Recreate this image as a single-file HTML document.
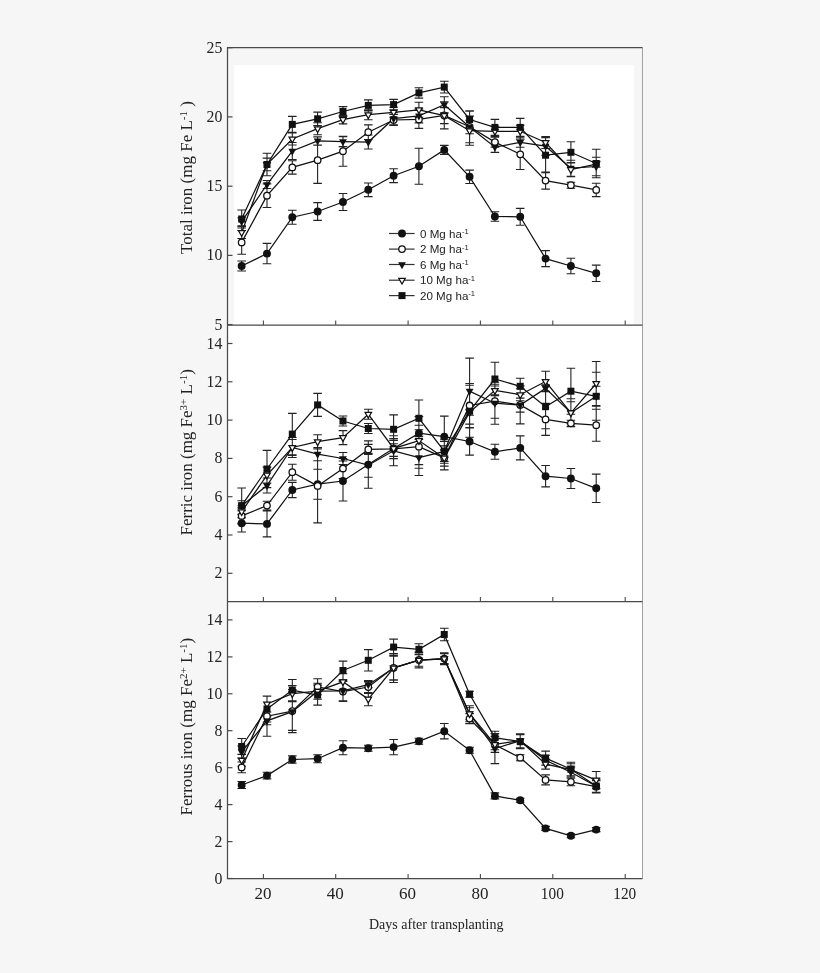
<!DOCTYPE html>
<html><head><meta charset="utf-8"><style>html,body{margin:0;padding:0;background:#f6f6f6;width:820px;height:973px;overflow:hidden}svg{display:block;will-change:transform}</style></head>
<body><svg width="820" height="973" viewBox="0 0 820 973">
<rect x="0" y="0" width="820" height="973" fill="#f6f6f6"/><rect x="234" y="65" width="400" height="260.0" fill="#fff"/><rect x="227.5" y="325.0" width="415.0" height="553.5" fill="#fff"/><g font-family="Liberation Serif" font-size="17" fill="#222"><path d="M227.5 47.7h5" stroke="#4a4a4a" stroke-width="1.2"/><text transform="translate(222.3,52.7) scale(0.93,1)" text-anchor="end">25</text><path d="M227.5 116.9h5" stroke="#4a4a4a" stroke-width="1.2"/><text transform="translate(222.3,121.9) scale(0.93,1)" text-anchor="end">20</text><path d="M227.5 186.2h5" stroke="#4a4a4a" stroke-width="1.2"/><text transform="translate(222.3,191.2) scale(0.93,1)" text-anchor="end">15</text><path d="M227.5 255.4h5" stroke="#4a4a4a" stroke-width="1.2"/><text transform="translate(222.3,260.4) scale(0.93,1)" text-anchor="end">10</text><path d="M227.5 324.6h5" stroke="#4a4a4a" stroke-width="1.2"/><text transform="translate(222.3,329.6) scale(0.93,1)" text-anchor="end">5</text><path d="M227.5 343.5h5" stroke="#4a4a4a" stroke-width="1.2"/><text transform="translate(222.3,348.5) scale(0.93,1)" text-anchor="end">14</text><path d="M227.5 381.8h5" stroke="#4a4a4a" stroke-width="1.2"/><text transform="translate(222.3,386.8) scale(0.93,1)" text-anchor="end">12</text><path d="M227.5 420.1h5" stroke="#4a4a4a" stroke-width="1.2"/><text transform="translate(222.3,425.1) scale(0.93,1)" text-anchor="end">10</text><path d="M227.5 458.4h5" stroke="#4a4a4a" stroke-width="1.2"/><text transform="translate(222.3,463.4) scale(0.93,1)" text-anchor="end">8</text><path d="M227.5 496.7h5" stroke="#4a4a4a" stroke-width="1.2"/><text transform="translate(222.3,501.7) scale(0.93,1)" text-anchor="end">6</text><path d="M227.5 535.0h5" stroke="#4a4a4a" stroke-width="1.2"/><text transform="translate(222.3,540.0) scale(0.93,1)" text-anchor="end">4</text><path d="M227.5 573.3h5" stroke="#4a4a4a" stroke-width="1.2"/><text transform="translate(222.3,578.3) scale(0.93,1)" text-anchor="end">2</text><path d="M227.5 619.9h5" stroke="#4a4a4a" stroke-width="1.2"/><text transform="translate(222.3,624.9) scale(0.93,1)" text-anchor="end">14</text><path d="M227.5 656.9h5" stroke="#4a4a4a" stroke-width="1.2"/><text transform="translate(222.3,661.9) scale(0.93,1)" text-anchor="end">12</text><path d="M227.5 693.8h5" stroke="#4a4a4a" stroke-width="1.2"/><text transform="translate(222.3,698.8) scale(0.93,1)" text-anchor="end">10</text><path d="M227.5 730.7h5" stroke="#4a4a4a" stroke-width="1.2"/><text transform="translate(222.3,735.7) scale(0.93,1)" text-anchor="end">8</text><path d="M227.5 767.7h5" stroke="#4a4a4a" stroke-width="1.2"/><text transform="translate(222.3,772.7) scale(0.93,1)" text-anchor="end">6</text><path d="M227.5 804.6h5" stroke="#4a4a4a" stroke-width="1.2"/><text transform="translate(222.3,809.6) scale(0.93,1)" text-anchor="end">4</text><path d="M227.5 841.6h5" stroke="#4a4a4a" stroke-width="1.2"/><text transform="translate(222.3,846.6) scale(0.93,1)" text-anchor="end">2</text><path d="M227.5 878.5h5" stroke="#4a4a4a" stroke-width="1.2"/><text transform="translate(222.3,883.5) scale(0.93,1)" text-anchor="end">0</text><text transform="translate(262.9,899.3) scale(1.0,1)" text-anchor="middle">20</text><text transform="translate(335.2,899.3) scale(1.0,1)" text-anchor="middle">40</text><text transform="translate(407.6,899.3) scale(1.0,1)" text-anchor="middle">60</text><text transform="translate(479.9,899.3) scale(1.0,1)" text-anchor="middle">80</text><text transform="translate(552.3,899.3) scale(0.9,1)" text-anchor="middle">100</text><text transform="translate(624.7,899.3) scale(0.9,1)" text-anchor="middle">120</text></g><path d="M263.4 325.0v-4.5M335.7 325.0v-4.5M408.1 325.0v-4.5M480.4 325.0v-4.5M552.8 325.0v-4.5M625.2 325.0v-4.5M263.4 601.5v-4.5M335.7 601.5v-4.5M408.1 601.5v-4.5M480.4 601.5v-4.5M552.8 601.5v-4.5M625.2 601.5v-4.5M263.4 878.5v-4.5M335.7 878.5v-4.5M408.1 878.5v-4.5M480.4 878.5v-4.5M552.8 878.5v-4.5M625.2 878.5v-4.5" stroke="#4a4a4a" stroke-width="1.1"/><path d="M642.5 47.7V878.5" fill="none" stroke="#999" stroke-width="0.9"/><path d="M642.5 47.7H227.5V878.5H642.5M227.5 325.0H642.5M227.5 601.5H642.5" fill="none" stroke="#4a4a4a" stroke-width="1.25"/><path d="M241.7 261.0V271.0M237.4 261.0h8.6M237.4 271.0h8.6M267.0 243.4V263.8M262.7 243.4h8.6M262.7 263.8h8.6M292.3 210.2V224.2M288.0 210.2h8.6M288.0 224.2h8.6M317.6 202.6V220.4M313.3 202.6h8.6M313.3 220.4h8.6M343.0 193.5V210.5M338.7 193.5h8.6M338.7 210.5h8.6M368.3 183.0V196.6M364.0 183.0h8.6M364.0 196.6h8.6M393.6 168.8V182.6M389.3 168.8h8.6M389.3 182.6h8.6M418.9 148.3V184.3M414.6 148.3h8.6M414.6 184.3h8.6M444.3 145.4V154.4M440.0 145.4h8.6M440.0 154.4h8.6M469.6 170.1V183.5M465.3 170.1h8.6M465.3 183.5h8.6M494.9 211.7V221.3M490.6 211.7h8.6M490.6 221.3h8.6M520.2 208.4V225.2M515.9 208.4h8.6M515.9 225.2h8.6M545.6 250.6V266.6M541.3 250.6h8.6M541.3 266.6h8.6M570.9 258.3V273.7M566.6 258.3h8.6M566.6 273.7h8.6M596.2 265.1V281.5M591.9 265.1h8.6M591.9 281.5h8.6M241.7 230.5V254.3M237.4 230.5h8.6M237.4 254.3h8.6M267.0 183.9V207.5M262.7 183.9h8.6M262.7 207.5h8.6M292.3 160.7V174.1M288.0 160.7h8.6M288.0 174.1h8.6M317.6 137.0V183.4M313.3 137.0h8.6M313.3 183.4h8.6M343.0 136.2V166.2M338.7 136.2h8.6M338.7 166.2h8.6M368.3 124.9V139.5M364.0 124.9h8.6M364.0 139.5h8.6M393.6 114.5V125.5M389.3 114.5h8.6M389.3 125.5h8.6M418.9 110.4V128.4M414.6 110.4h8.6M414.6 128.4h8.6M444.3 101.9V128.9M440.0 101.9h8.6M440.0 128.9h8.6M469.6 110.8V142.8M465.3 110.8h8.6M465.3 142.8h8.6M494.9 137.1V147.1M490.6 137.1h8.6M490.6 147.1h8.6M520.2 139.1V169.5M515.9 139.1h8.6M515.9 169.5h8.6M545.6 172.1V189.1M541.3 172.1h8.6M541.3 189.1h8.6M570.9 182.2V188.2M566.6 182.2h8.6M566.6 188.2h8.6M596.2 183.2V196.6M591.9 183.2h8.6M591.9 196.6h8.6M241.7 217.7V225.7M237.4 217.7h8.6M237.4 225.7h8.6M267.0 180.5V188.5M262.7 180.5h8.6M262.7 188.5h8.6M292.3 142.5V159.5M288.0 142.5h8.6M288.0 159.5h8.6M317.6 136.7V145.1M313.3 136.7h8.6M313.3 145.1h8.6M343.0 136.6V146.6M338.7 136.6h8.6M338.7 146.6h8.6M368.3 135.0V149.0M364.0 135.0h8.6M364.0 149.0h8.6M393.6 112.7V124.7M389.3 112.7h8.6M389.3 124.7h8.6M418.9 108.9V122.9M414.6 108.9h8.6M414.6 122.9h8.6M444.3 96.7V112.7M440.0 96.7h8.6M440.0 112.7h8.6M469.6 120.3V133.7M465.3 120.3h8.6M465.3 133.7h8.6M494.9 142.0V152.4M490.6 142.0h8.6M490.6 152.4h8.6M520.2 137.3V147.3M515.9 137.3h8.6M515.9 147.3h8.6M545.6 137.2V155.2M541.3 137.2h8.6M541.3 155.2h8.6M570.9 160.2V176.2M566.6 160.2h8.6M566.6 176.2h8.6M596.2 157.3V175.7M591.9 157.3h8.6M591.9 175.7h8.6M241.7 226.5V238.5M237.4 226.5h8.6M237.4 238.5h8.6M267.0 158.1V170.7M262.7 158.1h8.6M262.7 170.7h8.6M292.3 133.0V145.0M288.0 133.0h8.6M288.0 145.0h8.6M317.6 122.7V134.7M313.3 122.7h8.6M313.3 134.7h8.6M343.0 115.3V123.9M338.7 115.3h8.6M338.7 123.9h8.6M368.3 109.7V119.7M364.0 109.7h8.6M364.0 119.7h8.6M393.6 107.3V117.3M389.3 107.3h8.6M389.3 117.3h8.6M418.9 102.2V117.4M414.6 102.2h8.6M414.6 117.4h8.6M444.3 107.6V123.6M440.0 107.6h8.6M440.0 123.6h8.6M469.6 116.1V145.3M465.3 116.1h8.6M465.3 145.3h8.6M494.9 126.3V136.3M490.6 126.3h8.6M490.6 136.3h8.6M520.2 125.3V137.3M515.9 125.3h8.6M515.9 137.3h8.6M545.6 136.5V148.5M541.3 136.5h8.6M541.3 148.5h8.6M570.9 162.6V176.6M566.6 162.6h8.6M566.6 176.6h8.6M596.2 161.2V167.2M591.9 161.2h8.6M591.9 167.2h8.6M241.7 210.0V228.0M237.4 210.0h8.6M237.4 228.0h8.6M267.0 153.3V175.7M262.7 153.3h8.6M262.7 175.7h8.6M292.3 116.4V132.4M288.0 116.4h8.6M288.0 132.4h8.6M317.6 112.1V125.5M313.3 112.1h8.6M313.3 125.5h8.6M343.0 106.6V116.4M338.7 106.6h8.6M338.7 116.4h8.6M368.3 99.9V110.9M364.0 99.9h8.6M364.0 110.9h8.6M393.6 99.4V109.8M389.3 99.4h8.6M389.3 109.8h8.6M418.9 87.7V98.1M414.6 87.7h8.6M414.6 98.1h8.6M444.3 81.2V93.0M440.0 81.2h8.6M440.0 93.0h8.6M469.6 111.2V127.8M465.3 111.2h8.6M465.3 127.8h8.6M494.9 119.4V135.4M490.6 119.4h8.6M490.6 135.4h8.6M520.2 118.4V136.4M515.9 118.4h8.6M515.9 136.4h8.6M545.6 137.7V172.7M541.3 137.7h8.6M541.3 172.7h8.6M570.9 141.7V162.9M566.6 141.7h8.6M566.6 162.9h8.6M596.2 149.3V177.7M591.9 149.3h8.6M591.9 177.7h8.6" stroke="#222" stroke-width="1.1" fill="none"/><polyline points="241.65,266.00 266.98,253.60 292.30,217.20 317.63,211.50 342.96,202.00 368.28,189.80 393.61,175.70 418.93,166.30 444.26,149.90 469.59,176.80 494.91,216.50 520.24,216.80 545.56,258.60 570.89,266.00 596.22,273.30" fill="none" stroke="#111" stroke-width="1.25"/><polyline points="241.65,242.40 266.98,195.70 292.30,167.40 317.63,160.20 342.96,151.20 368.28,132.20 393.61,120.00 418.93,119.40 444.26,115.40 469.59,126.80 494.91,142.10 520.24,154.30 545.56,180.60 570.89,185.20 596.22,189.90" fill="none" stroke="#111" stroke-width="1.25"/><polyline points="241.65,221.70 266.98,184.50 292.30,151.00 317.63,140.90 342.96,141.60 368.28,142.00 393.61,118.70 418.93,115.90 444.26,104.70 469.59,127.00 494.91,147.20 520.24,142.30 545.56,146.20 570.89,168.20 596.22,166.50" fill="none" stroke="#111" stroke-width="1.25"/><polyline points="241.65,232.50 266.98,164.40 292.30,139.00 317.63,128.70 342.96,119.60 368.28,114.70 393.61,112.30 418.93,109.80 444.26,115.60 469.59,130.70 494.91,131.30 520.24,131.30 545.56,142.50 570.89,169.60 596.22,164.20" fill="none" stroke="#111" stroke-width="1.25"/><polyline points="241.65,219.00 266.98,164.50 292.30,124.40 317.63,118.80 342.96,111.50 368.28,105.40 393.61,104.60 418.93,92.90 444.26,87.10 469.59,119.50 494.91,127.40 520.24,127.40 545.56,155.20 570.89,152.30 596.22,163.50" fill="none" stroke="#111" stroke-width="1.25"/><circle cx="241.65" cy="266.00" r="3.95" fill="#111"/><circle cx="266.98" cy="253.60" r="3.95" fill="#111"/><circle cx="292.30" cy="217.20" r="3.95" fill="#111"/><circle cx="317.63" cy="211.50" r="3.95" fill="#111"/><circle cx="342.96" cy="202.00" r="3.95" fill="#111"/><circle cx="368.28" cy="189.80" r="3.95" fill="#111"/><circle cx="393.61" cy="175.70" r="3.95" fill="#111"/><circle cx="418.93" cy="166.30" r="3.95" fill="#111"/><circle cx="444.26" cy="149.90" r="3.95" fill="#111"/><circle cx="469.59" cy="176.80" r="3.95" fill="#111"/><circle cx="494.91" cy="216.50" r="3.95" fill="#111"/><circle cx="520.24" cy="216.80" r="3.95" fill="#111"/><circle cx="545.56" cy="258.60" r="3.95" fill="#111"/><circle cx="570.89" cy="266.00" r="3.95" fill="#111"/><circle cx="596.22" cy="273.30" r="3.95" fill="#111"/><circle cx="241.65" cy="242.40" r="3.25" fill="#fff" stroke="#111" stroke-width="1.3"/><circle cx="266.98" cy="195.70" r="3.25" fill="#fff" stroke="#111" stroke-width="1.3"/><circle cx="292.30" cy="167.40" r="3.25" fill="#fff" stroke="#111" stroke-width="1.3"/><circle cx="317.63" cy="160.20" r="3.25" fill="#fff" stroke="#111" stroke-width="1.3"/><circle cx="342.96" cy="151.20" r="3.25" fill="#fff" stroke="#111" stroke-width="1.3"/><circle cx="368.28" cy="132.20" r="3.25" fill="#fff" stroke="#111" stroke-width="1.3"/><circle cx="393.61" cy="120.00" r="3.25" fill="#fff" stroke="#111" stroke-width="1.3"/><circle cx="418.93" cy="119.40" r="3.25" fill="#fff" stroke="#111" stroke-width="1.3"/><circle cx="444.26" cy="115.40" r="3.25" fill="#fff" stroke="#111" stroke-width="1.3"/><circle cx="469.59" cy="126.80" r="3.25" fill="#fff" stroke="#111" stroke-width="1.3"/><circle cx="494.91" cy="142.10" r="3.25" fill="#fff" stroke="#111" stroke-width="1.3"/><circle cx="520.24" cy="154.30" r="3.25" fill="#fff" stroke="#111" stroke-width="1.3"/><circle cx="545.56" cy="180.60" r="3.25" fill="#fff" stroke="#111" stroke-width="1.3"/><circle cx="570.89" cy="185.20" r="3.25" fill="#fff" stroke="#111" stroke-width="1.3"/><circle cx="596.22" cy="189.90" r="3.25" fill="#fff" stroke="#111" stroke-width="1.3"/><polygon points="237.75,219.37 245.55,219.37 241.65,226.37" fill="#111"/><polygon points="263.08,182.17 270.88,182.17 266.98,189.17" fill="#111"/><polygon points="288.40,148.67 296.20,148.67 292.30,155.67" fill="#111"/><polygon points="313.73,138.57 321.53,138.57 317.63,145.57" fill="#111"/><polygon points="339.06,139.27 346.86,139.27 342.96,146.27" fill="#111"/><polygon points="364.38,139.67 372.18,139.67 368.28,146.67" fill="#111"/><polygon points="389.71,116.37 397.51,116.37 393.61,123.37" fill="#111"/><polygon points="415.03,113.57 422.83,113.57 418.93,120.57" fill="#111"/><polygon points="440.36,102.37 448.16,102.37 444.26,109.37" fill="#111"/><polygon points="465.69,124.67 473.49,124.67 469.59,131.67" fill="#111"/><polygon points="491.01,144.87 498.81,144.87 494.91,151.87" fill="#111"/><polygon points="516.34,139.97 524.14,139.97 520.24,146.97" fill="#111"/><polygon points="541.66,143.87 549.46,143.87 545.56,150.87" fill="#111"/><polygon points="566.99,165.87 574.79,165.87 570.89,172.87" fill="#111"/><polygon points="592.32,164.17 600.12,164.17 596.22,171.17" fill="#111"/><polygon points="238.40,230.60 244.90,230.60 241.65,236.30" fill="#fff" stroke="#111" stroke-width="1.25" stroke-linejoin="miter"/><polygon points="263.73,162.50 270.23,162.50 266.98,168.20" fill="#fff" stroke="#111" stroke-width="1.25" stroke-linejoin="miter"/><polygon points="289.05,137.10 295.55,137.10 292.30,142.80" fill="#fff" stroke="#111" stroke-width="1.25" stroke-linejoin="miter"/><polygon points="314.38,126.80 320.88,126.80 317.63,132.50" fill="#fff" stroke="#111" stroke-width="1.25" stroke-linejoin="miter"/><polygon points="339.71,117.70 346.21,117.70 342.96,123.40" fill="#fff" stroke="#111" stroke-width="1.25" stroke-linejoin="miter"/><polygon points="365.03,112.80 371.53,112.80 368.28,118.50" fill="#fff" stroke="#111" stroke-width="1.25" stroke-linejoin="miter"/><polygon points="390.36,110.40 396.86,110.40 393.61,116.10" fill="#fff" stroke="#111" stroke-width="1.25" stroke-linejoin="miter"/><polygon points="415.68,107.90 422.18,107.90 418.93,113.60" fill="#fff" stroke="#111" stroke-width="1.25" stroke-linejoin="miter"/><polygon points="441.01,113.70 447.51,113.70 444.26,119.40" fill="#fff" stroke="#111" stroke-width="1.25" stroke-linejoin="miter"/><polygon points="466.34,128.80 472.84,128.80 469.59,134.50" fill="#fff" stroke="#111" stroke-width="1.25" stroke-linejoin="miter"/><polygon points="491.66,129.40 498.16,129.40 494.91,135.10" fill="#fff" stroke="#111" stroke-width="1.25" stroke-linejoin="miter"/><polygon points="516.99,129.40 523.49,129.40 520.24,135.10" fill="#fff" stroke="#111" stroke-width="1.25" stroke-linejoin="miter"/><polygon points="542.31,140.60 548.81,140.60 545.56,146.30" fill="#fff" stroke="#111" stroke-width="1.25" stroke-linejoin="miter"/><polygon points="567.64,167.70 574.14,167.70 570.89,173.40" fill="#fff" stroke="#111" stroke-width="1.25" stroke-linejoin="miter"/><polygon points="592.97,162.30 599.47,162.30 596.22,168.00" fill="#fff" stroke="#111" stroke-width="1.25" stroke-linejoin="miter"/><rect x="238.15" y="215.50" width="7.00" height="7.00" fill="#111"/><rect x="263.48" y="161.00" width="7.00" height="7.00" fill="#111"/><rect x="288.80" y="120.90" width="7.00" height="7.00" fill="#111"/><rect x="314.13" y="115.30" width="7.00" height="7.00" fill="#111"/><rect x="339.46" y="108.00" width="7.00" height="7.00" fill="#111"/><rect x="364.78" y="101.90" width="7.00" height="7.00" fill="#111"/><rect x="390.11" y="101.10" width="7.00" height="7.00" fill="#111"/><rect x="415.43" y="89.40" width="7.00" height="7.00" fill="#111"/><rect x="440.76" y="83.60" width="7.00" height="7.00" fill="#111"/><rect x="466.09" y="116.00" width="7.00" height="7.00" fill="#111"/><rect x="491.41" y="123.90" width="7.00" height="7.00" fill="#111"/><rect x="516.74" y="123.90" width="7.00" height="7.00" fill="#111"/><rect x="542.06" y="151.70" width="7.00" height="7.00" fill="#111"/><rect x="567.39" y="148.80" width="7.00" height="7.00" fill="#111"/><rect x="592.72" y="160.00" width="7.00" height="7.00" fill="#111"/><path d="M241.7 514.4V532.0M237.4 514.4h8.6M237.4 532.0h8.6M267.0 510.9V536.9M262.7 510.9h8.6M262.7 536.9h8.6M292.3 482.4V497.6M288.0 482.4h8.6M288.0 497.6h8.6M317.6 469.2V499.2M313.3 469.2h8.6M313.3 499.2h8.6M343.0 461.0V501.0M338.7 461.0h8.6M338.7 501.0h8.6M368.3 440.9V488.3M364.0 440.9h8.6M364.0 488.3h8.6M393.6 438.5V458.5M389.3 438.5h8.6M389.3 458.5h8.6M418.9 429.8V436.6M414.6 429.8h8.6M414.6 436.6h8.6M444.3 416.1V457.1M440.0 416.1h8.6M440.0 457.1h8.6M469.6 427.9V455.1M465.3 427.9h8.6M465.3 455.1h8.6M494.9 444.3V459.3M490.6 444.3h8.6M490.6 459.3h8.6M520.2 435.9V459.9M515.9 435.9h8.6M515.9 459.9h8.6M545.6 465.5V486.9M541.3 465.5h8.6M541.3 486.9h8.6M570.9 468.5V488.5M566.6 468.5h8.6M566.6 488.5h8.6M596.2 474.1V502.5M591.9 474.1h8.6M591.9 502.5h8.6M241.7 507.9V523.9M237.4 507.9h8.6M237.4 523.9h8.6M267.0 501.2V510.0M262.7 501.2h8.6M262.7 510.0h8.6M292.3 464.2V480.2M288.0 464.2h8.6M288.0 480.2h8.6M317.6 448.9V522.9M313.3 448.9h8.6M313.3 522.9h8.6M343.0 458.5V478.5M338.7 458.5h8.6M338.7 478.5h8.6M368.3 444.4V454.4M364.0 444.4h8.6M364.0 454.4h8.6M393.6 438.8V458.8M389.3 438.8h8.6M389.3 458.8h8.6M418.9 425.2V468.2M414.6 425.2h8.6M414.6 468.2h8.6M444.3 445.9V469.9M440.0 445.9h8.6M440.0 469.9h8.6M469.6 383.5V427.5M465.3 383.5h8.6M465.3 427.5h8.6M494.9 384.2V418.2M490.6 384.2h8.6M490.6 418.2h8.6M520.2 385.9V423.9M515.9 385.9h8.6M515.9 423.9h8.6M545.6 403.4V435.4M541.3 403.4h8.6M541.3 435.4h8.6M570.9 420.3V426.3M566.6 420.3h8.6M566.6 426.3h8.6M596.2 409.2V441.2M591.9 409.2h8.6M591.9 441.2h8.6M241.7 500.8V510.8M237.4 500.8h8.6M237.4 510.8h8.6M267.0 478.0V493.0M262.7 478.0h8.6M262.7 493.0h8.6M292.3 439.5V455.5M288.0 439.5h8.6M288.0 455.5h8.6M317.6 447.5V460.7M313.3 447.5h8.6M313.3 460.7h8.6M343.0 452.5V464.5M338.7 452.5h8.6M338.7 464.5h8.6M368.3 453.2V477.2M364.0 453.2h8.6M364.0 477.2h8.6M393.6 435.8V465.8M389.3 435.8h8.6M389.3 465.8h8.6M418.9 439.5V475.5M414.6 439.5h8.6M414.6 475.5h8.6M444.3 441.4V461.4M440.0 441.4h8.6M440.0 461.4h8.6M469.6 358.1V424.1M465.3 358.1h8.6M465.3 424.1h8.6M494.9 382.2V424.2M490.6 382.2h8.6M490.6 424.2h8.6M520.2 398.1V412.1M515.9 398.1h8.6M515.9 412.1h8.6M545.6 385.4V391.4M541.3 385.4h8.6M541.3 391.4h8.6M570.9 401.8V423.8M566.6 401.8h8.6M566.6 423.8h8.6M596.2 386.2V406.2M591.9 386.2h8.6M591.9 406.2h8.6M241.7 505.7V517.7M237.4 505.7h8.6M237.4 517.7h8.6M267.0 467.1V483.1M262.7 467.1h8.6M262.7 483.1h8.6M292.3 437.5V457.5M288.0 437.5h8.6M288.0 457.5h8.6M317.6 434.7V448.7M313.3 434.7h8.6M313.3 448.7h8.6M343.0 430.6V444.6M338.7 430.6h8.6M338.7 444.6h8.6M368.3 409.2V419.2M364.0 409.2h8.6M364.0 419.2h8.6M393.6 440.4V456.4M389.3 440.4h8.6M389.3 456.4h8.6M418.9 416.6V464.6M414.6 416.6h8.6M414.6 464.6h8.6M444.3 450.1V466.1M440.0 450.1h8.6M440.0 466.1h8.6M469.6 409.2V415.2M465.3 409.2h8.6M465.3 415.2h8.6M494.9 386.0V394.8M490.6 386.0h8.6M490.6 394.8h8.6M520.2 388.7V400.7M515.9 388.7h8.6M515.9 400.7h8.6M545.6 371.3V391.7M541.3 371.3h8.6M541.3 391.7h8.6M570.9 398.8V426.8M566.6 398.8h8.6M566.6 426.8h8.6M596.2 361.5V405.5M591.9 361.5h8.6M591.9 405.5h8.6M241.7 488.0V523.2M237.4 488.0h8.6M237.4 523.2h8.6M267.0 450.4V487.6M262.7 450.4h8.6M262.7 487.6h8.6M292.3 413.4V454.8M288.0 413.4h8.6M288.0 454.8h8.6M317.6 393.4V416.4M313.3 393.4h8.6M313.3 416.4h8.6M343.0 416.0V426.0M338.7 416.0h8.6M338.7 426.0h8.6M368.3 423.5V433.5M364.0 423.5h8.6M364.0 433.5h8.6M393.6 414.9V443.7M389.3 414.9h8.6M389.3 443.7h8.6M418.9 400.0V436.6M414.6 400.0h8.6M414.6 436.6h8.6M444.3 439.2V463.2M440.0 439.2h8.6M440.0 463.2h8.6M469.6 385.2V437.2M465.3 385.2h8.6M465.3 437.2h8.6M494.9 362.2V395.8M490.6 362.2h8.6M490.6 395.8h8.6M520.2 378.3V394.3M515.9 378.3h8.6M515.9 394.3h8.6M545.6 384.7V428.7M541.3 384.7h8.6M541.3 428.7h8.6M570.9 368.2V414.2M566.6 368.2h8.6M566.6 414.2h8.6M596.2 372.3V420.3M591.9 372.3h8.6M591.9 420.3h8.6" stroke="#222" stroke-width="1.1" fill="none"/><polyline points="241.65,523.20 266.98,523.90 292.30,490.00 317.63,484.20 342.96,481.00 368.28,464.60 393.61,448.50 418.93,433.20 444.26,436.60 469.59,441.50 494.91,451.80 520.24,447.90 545.56,476.20 570.89,478.50 596.22,488.30" fill="none" stroke="#111" stroke-width="1.25"/><polyline points="241.65,515.90 266.98,505.60 292.30,472.20 317.63,485.90 342.96,468.50 368.28,449.40 393.61,448.80 418.93,446.70 444.26,457.90 469.59,405.50 494.91,401.20 520.24,404.90 545.56,419.40 570.89,423.30 596.22,425.20" fill="none" stroke="#111" stroke-width="1.25"/><polyline points="241.65,505.80 266.98,485.50 292.30,447.50 317.63,454.10 342.96,458.50 368.28,465.20 393.61,450.80 418.93,457.50 444.26,451.40 469.59,391.10 494.91,403.20 520.24,405.10 545.56,388.40 570.89,412.80 596.22,396.20" fill="none" stroke="#111" stroke-width="1.25"/><polyline points="241.65,511.70 266.98,475.10 292.30,447.50 317.63,441.70 342.96,437.60 368.28,414.20 393.61,448.40 418.93,440.60 444.26,458.10 469.59,412.20 494.91,390.40 520.24,394.70 545.56,381.50 570.89,412.80 596.22,383.50" fill="none" stroke="#111" stroke-width="1.25"/><polyline points="241.65,505.60 266.98,469.00 292.30,434.10 317.63,404.90 342.96,421.00 368.28,428.50 393.61,429.30 418.93,418.30 444.26,451.20 469.59,411.20 494.91,379.00 520.24,386.30 545.56,406.70 570.89,391.20 596.22,396.30" fill="none" stroke="#111" stroke-width="1.25"/><circle cx="241.65" cy="523.20" r="3.95" fill="#111"/><circle cx="266.98" cy="523.90" r="3.95" fill="#111"/><circle cx="292.30" cy="490.00" r="3.95" fill="#111"/><circle cx="317.63" cy="484.20" r="3.95" fill="#111"/><circle cx="342.96" cy="481.00" r="3.95" fill="#111"/><circle cx="368.28" cy="464.60" r="3.95" fill="#111"/><circle cx="393.61" cy="448.50" r="3.95" fill="#111"/><circle cx="418.93" cy="433.20" r="3.95" fill="#111"/><circle cx="444.26" cy="436.60" r="3.95" fill="#111"/><circle cx="469.59" cy="441.50" r="3.95" fill="#111"/><circle cx="494.91" cy="451.80" r="3.95" fill="#111"/><circle cx="520.24" cy="447.90" r="3.95" fill="#111"/><circle cx="545.56" cy="476.20" r="3.95" fill="#111"/><circle cx="570.89" cy="478.50" r="3.95" fill="#111"/><circle cx="596.22" cy="488.30" r="3.95" fill="#111"/><circle cx="241.65" cy="515.90" r="3.25" fill="#fff" stroke="#111" stroke-width="1.3"/><circle cx="266.98" cy="505.60" r="3.25" fill="#fff" stroke="#111" stroke-width="1.3"/><circle cx="292.30" cy="472.20" r="3.25" fill="#fff" stroke="#111" stroke-width="1.3"/><circle cx="317.63" cy="485.90" r="3.25" fill="#fff" stroke="#111" stroke-width="1.3"/><circle cx="342.96" cy="468.50" r="3.25" fill="#fff" stroke="#111" stroke-width="1.3"/><circle cx="368.28" cy="449.40" r="3.25" fill="#fff" stroke="#111" stroke-width="1.3"/><circle cx="393.61" cy="448.80" r="3.25" fill="#fff" stroke="#111" stroke-width="1.3"/><circle cx="418.93" cy="446.70" r="3.25" fill="#fff" stroke="#111" stroke-width="1.3"/><circle cx="444.26" cy="457.90" r="3.25" fill="#fff" stroke="#111" stroke-width="1.3"/><circle cx="469.59" cy="405.50" r="3.25" fill="#fff" stroke="#111" stroke-width="1.3"/><circle cx="494.91" cy="401.20" r="3.25" fill="#fff" stroke="#111" stroke-width="1.3"/><circle cx="520.24" cy="404.90" r="3.25" fill="#fff" stroke="#111" stroke-width="1.3"/><circle cx="545.56" cy="419.40" r="3.25" fill="#fff" stroke="#111" stroke-width="1.3"/><circle cx="570.89" cy="423.30" r="3.25" fill="#fff" stroke="#111" stroke-width="1.3"/><circle cx="596.22" cy="425.20" r="3.25" fill="#fff" stroke="#111" stroke-width="1.3"/><polygon points="237.75,503.47 245.55,503.47 241.65,510.47" fill="#111"/><polygon points="263.08,483.17 270.88,483.17 266.98,490.17" fill="#111"/><polygon points="288.40,445.17 296.20,445.17 292.30,452.17" fill="#111"/><polygon points="313.73,451.77 321.53,451.77 317.63,458.77" fill="#111"/><polygon points="339.06,456.17 346.86,456.17 342.96,463.17" fill="#111"/><polygon points="364.38,462.87 372.18,462.87 368.28,469.87" fill="#111"/><polygon points="389.71,448.47 397.51,448.47 393.61,455.47" fill="#111"/><polygon points="415.03,455.17 422.83,455.17 418.93,462.17" fill="#111"/><polygon points="440.36,449.07 448.16,449.07 444.26,456.07" fill="#111"/><polygon points="465.69,388.77 473.49,388.77 469.59,395.77" fill="#111"/><polygon points="491.01,400.87 498.81,400.87 494.91,407.87" fill="#111"/><polygon points="516.34,402.77 524.14,402.77 520.24,409.77" fill="#111"/><polygon points="541.66,386.07 549.46,386.07 545.56,393.07" fill="#111"/><polygon points="566.99,410.47 574.79,410.47 570.89,417.47" fill="#111"/><polygon points="592.32,393.87 600.12,393.87 596.22,400.87" fill="#111"/><polygon points="238.40,509.80 244.90,509.80 241.65,515.50" fill="#fff" stroke="#111" stroke-width="1.25" stroke-linejoin="miter"/><polygon points="263.73,473.20 270.23,473.20 266.98,478.90" fill="#fff" stroke="#111" stroke-width="1.25" stroke-linejoin="miter"/><polygon points="289.05,445.60 295.55,445.60 292.30,451.30" fill="#fff" stroke="#111" stroke-width="1.25" stroke-linejoin="miter"/><polygon points="314.38,439.80 320.88,439.80 317.63,445.50" fill="#fff" stroke="#111" stroke-width="1.25" stroke-linejoin="miter"/><polygon points="339.71,435.70 346.21,435.70 342.96,441.40" fill="#fff" stroke="#111" stroke-width="1.25" stroke-linejoin="miter"/><polygon points="365.03,412.30 371.53,412.30 368.28,418.00" fill="#fff" stroke="#111" stroke-width="1.25" stroke-linejoin="miter"/><polygon points="390.36,446.50 396.86,446.50 393.61,452.20" fill="#fff" stroke="#111" stroke-width="1.25" stroke-linejoin="miter"/><polygon points="415.68,438.70 422.18,438.70 418.93,444.40" fill="#fff" stroke="#111" stroke-width="1.25" stroke-linejoin="miter"/><polygon points="441.01,456.20 447.51,456.20 444.26,461.90" fill="#fff" stroke="#111" stroke-width="1.25" stroke-linejoin="miter"/><polygon points="466.34,410.30 472.84,410.30 469.59,416.00" fill="#fff" stroke="#111" stroke-width="1.25" stroke-linejoin="miter"/><polygon points="491.66,388.50 498.16,388.50 494.91,394.20" fill="#fff" stroke="#111" stroke-width="1.25" stroke-linejoin="miter"/><polygon points="516.99,392.80 523.49,392.80 520.24,398.50" fill="#fff" stroke="#111" stroke-width="1.25" stroke-linejoin="miter"/><polygon points="542.31,379.60 548.81,379.60 545.56,385.30" fill="#fff" stroke="#111" stroke-width="1.25" stroke-linejoin="miter"/><polygon points="567.64,410.90 574.14,410.90 570.89,416.60" fill="#fff" stroke="#111" stroke-width="1.25" stroke-linejoin="miter"/><polygon points="592.97,381.60 599.47,381.60 596.22,387.30" fill="#fff" stroke="#111" stroke-width="1.25" stroke-linejoin="miter"/><rect x="238.15" y="502.10" width="7.00" height="7.00" fill="#111"/><rect x="263.48" y="465.50" width="7.00" height="7.00" fill="#111"/><rect x="288.80" y="430.60" width="7.00" height="7.00" fill="#111"/><rect x="314.13" y="401.40" width="7.00" height="7.00" fill="#111"/><rect x="339.46" y="417.50" width="7.00" height="7.00" fill="#111"/><rect x="364.78" y="425.00" width="7.00" height="7.00" fill="#111"/><rect x="390.11" y="425.80" width="7.00" height="7.00" fill="#111"/><rect x="415.43" y="414.80" width="7.00" height="7.00" fill="#111"/><rect x="440.76" y="447.70" width="7.00" height="7.00" fill="#111"/><rect x="466.09" y="407.70" width="7.00" height="7.00" fill="#111"/><rect x="491.41" y="375.50" width="7.00" height="7.00" fill="#111"/><rect x="516.74" y="382.80" width="7.00" height="7.00" fill="#111"/><rect x="542.06" y="403.20" width="7.00" height="7.00" fill="#111"/><rect x="567.39" y="387.70" width="7.00" height="7.00" fill="#111"/><rect x="592.72" y="392.80" width="7.00" height="7.00" fill="#111"/><path d="M241.7 781.5V788.5M237.4 781.5h8.6M237.4 788.5h8.6M267.0 772.3V778.9M262.7 772.3h8.6M262.7 778.9h8.6M292.3 755.9V763.1M288.0 755.9h8.6M288.0 763.1h8.6M317.6 754.7V762.7M313.3 754.7h8.6M313.3 762.7h8.6M343.0 740.7V754.7M338.7 740.7h8.6M338.7 754.7h8.6M368.3 745.2V751.2M364.0 745.2h8.6M364.0 751.2h8.6M393.6 739.5V754.7M389.3 739.5h8.6M389.3 754.7h8.6M418.9 738.3V744.3M414.6 738.3h8.6M414.6 744.3h8.6M444.3 723.5V738.9M440.0 723.5h8.6M440.0 738.9h8.6M469.6 747.3V753.3M465.3 747.3h8.6M465.3 753.3h8.6M494.9 792.9V798.9M490.6 792.9h8.6M490.6 798.9h8.6M520.2 798.3V802.3M515.9 798.3h8.6M515.9 802.3h8.6M545.6 826.4V830.4M541.3 826.4h8.6M541.3 830.4h8.6M570.9 833.8V837.8M566.6 833.8h8.6M566.6 837.8h8.6M596.2 827.6V831.6M591.9 827.6h8.6M591.9 831.6h8.6M241.7 762.0V772.8M237.4 762.0h8.6M237.4 772.8h8.6M267.0 696.2V736.2M262.7 696.2h8.6M262.7 736.2h8.6M292.3 689.6V732.6M288.0 689.6h8.6M288.0 732.6h8.6M317.6 678.8V694.8M313.3 678.8h8.6M313.3 694.8h8.6M343.0 681.5V701.5M338.7 681.5h8.6M338.7 701.5h8.6M368.3 680.6V693.4M364.0 680.6h8.6M364.0 693.4h8.6M393.6 655.3V680.3M389.3 655.3h8.6M389.3 680.3h8.6M418.9 652.0V668.0M414.6 652.0h8.6M414.6 668.0h8.6M444.3 653.6V663.6M440.0 653.6h8.6M440.0 663.6h8.6M469.6 713.6V723.6M465.3 713.6h8.6M465.3 723.6h8.6M494.9 739.8V749.8M490.6 739.8h8.6M490.6 749.8h8.6M520.2 754.7V760.7M515.9 754.7h8.6M515.9 760.7h8.6M545.6 774.9V784.9M541.3 774.9h8.6M541.3 784.9h8.6M570.9 777.8V785.8M566.6 777.8h8.6M566.6 785.8h8.6M596.2 780.7V792.7M591.9 780.7h8.6M591.9 792.7h8.6M241.7 746.0V758.0M237.4 746.0h8.6M237.4 758.0h8.6M267.0 716.8V724.8M262.7 716.8h8.6M262.7 724.8h8.6M292.3 693.0V730.4M288.0 693.0h8.6M288.0 730.4h8.6M317.6 683.2V699.2M313.3 683.2h8.6M313.3 699.2h8.6M343.0 680.9V700.9M338.7 680.9h8.6M338.7 700.9h8.6M368.3 681.7V687.7M364.0 681.7h8.6M364.0 687.7h8.6M393.6 653.5V682.5M389.3 653.5h8.6M389.3 682.5h8.6M418.9 654.2V666.2M414.6 654.2h8.6M414.6 666.2h8.6M444.3 652.8V664.8M440.0 652.8h8.6M440.0 664.8h8.6M469.6 707.7V719.7M465.3 707.7h8.6M465.3 719.7h8.6M494.9 733.6V763.6M490.6 733.6h8.6M490.6 763.6h8.6M520.2 733.7V747.7M515.9 733.7h8.6M515.9 747.7h8.6M545.6 755.2V765.2M541.3 755.2h8.6M541.3 765.2h8.6M570.9 766.2V778.2M566.6 766.2h8.6M566.6 778.2h8.6M596.2 780.2V792.2M591.9 780.2h8.6M591.9 792.2h8.6M241.7 754.2V766.2M237.4 754.2h8.6M237.4 766.2h8.6M267.0 696.0V712.0M262.7 696.0h8.6M262.7 712.0h8.6M292.3 685.6V701.6M288.0 685.6h8.6M288.0 701.6h8.6M317.6 683.2V699.2M313.3 683.2h8.6M313.3 699.2h8.6M343.0 673.8V689.8M338.7 673.8h8.6M338.7 689.8h8.6M368.3 692.5V705.7M364.0 692.5h8.6M364.0 705.7h8.6M393.6 656.3V679.7M389.3 656.3h8.6M389.3 679.7h8.6M418.9 652.7V667.7M414.6 652.7h8.6M414.6 667.7h8.6M444.3 652.8V664.8M440.0 652.8h8.6M440.0 664.8h8.6M469.6 705.7V721.7M465.3 705.7h8.6M465.3 721.7h8.6M494.9 736.4V752.4M490.6 736.4h8.6M490.6 752.4h8.6M520.2 733.7V747.7M515.9 733.7h8.6M515.9 747.7h8.6M545.6 759.1V769.1M541.3 759.1h8.6M541.3 769.1h8.6M570.9 763.7V775.7M566.6 763.7h8.6M566.6 775.7h8.6M596.2 771.5V788.7M591.9 771.5h8.6M591.9 788.7h8.6M241.7 738.5V754.5M237.4 738.5h8.6M237.4 754.5h8.6M267.0 696.0V722.0M262.7 696.0h8.6M262.7 722.0h8.6M292.3 679.5V700.7M288.0 679.5h8.6M288.0 700.7h8.6M317.6 685.1V705.1M313.3 685.1h8.6M313.3 705.1h8.6M343.0 661.1V679.9M338.7 661.1h8.6M338.7 679.9h8.6M368.3 649.6V671.0M364.0 649.6h8.6M364.0 671.0h8.6M393.6 639.1V655.1M389.3 639.1h8.6M389.3 655.1h8.6M418.9 643.8V654.8M414.6 643.8h8.6M414.6 654.8h8.6M444.3 628.2V640.8M440.0 628.2h8.6M440.0 640.8h8.6M469.6 691.2V697.2M465.3 691.2h8.6M465.3 697.2h8.6M494.9 731.2V744.0M490.6 731.2h8.6M490.6 744.0h8.6M520.2 734.7V748.7M515.9 734.7h8.6M515.9 748.7h8.6M545.6 751.1V765.1M541.3 751.1h8.6M541.3 765.1h8.6M570.9 762.2V776.2M566.6 762.2h8.6M566.6 776.2h8.6M596.2 779.0V793.0M591.9 779.0h8.6M591.9 793.0h8.6" stroke="#222" stroke-width="1.1" fill="none"/><polyline points="241.65,785.00 266.98,775.60 292.30,759.50 317.63,758.70 342.96,747.70 368.28,748.20 393.61,747.10 418.93,741.30 444.26,731.20 469.59,750.30 494.91,795.90 520.24,800.30 545.56,828.40 570.89,835.80 596.22,829.60" fill="none" stroke="#111" stroke-width="1.25"/><polyline points="241.65,767.40 266.98,716.20 292.30,711.10 317.63,686.80 342.96,691.50 368.28,687.00 393.61,667.80 418.93,660.00 444.26,658.60 469.59,718.60 494.91,744.80 520.24,757.70 545.56,779.90 570.89,781.80 596.22,786.70" fill="none" stroke="#111" stroke-width="1.25"/><polyline points="241.65,752.00 266.98,720.80 292.30,711.70 317.63,691.20 342.96,690.90 368.28,684.70 393.61,668.00 418.93,660.20 444.26,658.80 469.59,713.70 494.91,748.60 520.24,740.70 545.56,760.20 570.89,772.20 596.22,786.20" fill="none" stroke="#111" stroke-width="1.25"/><polyline points="241.65,760.20 266.98,704.00 292.30,693.60 317.63,691.20 342.96,681.80 368.28,699.10 393.61,668.00 418.93,660.20 444.26,658.80 469.59,713.70 494.91,744.40 520.24,740.70 545.56,764.10 570.89,769.70 596.22,780.10" fill="none" stroke="#111" stroke-width="1.25"/><polyline points="241.65,746.50 266.98,709.00 292.30,690.10 317.63,695.10 342.96,670.50 368.28,660.30 393.61,647.10 418.93,649.30 444.26,634.50 469.59,694.20 494.91,737.60 520.24,741.70 545.56,758.10 570.89,769.20 596.22,786.00" fill="none" stroke="#111" stroke-width="1.25"/><circle cx="241.65" cy="785.00" r="3.95" fill="#111"/><circle cx="266.98" cy="775.60" r="3.95" fill="#111"/><circle cx="292.30" cy="759.50" r="3.95" fill="#111"/><circle cx="317.63" cy="758.70" r="3.95" fill="#111"/><circle cx="342.96" cy="747.70" r="3.95" fill="#111"/><circle cx="368.28" cy="748.20" r="3.95" fill="#111"/><circle cx="393.61" cy="747.10" r="3.95" fill="#111"/><circle cx="418.93" cy="741.30" r="3.95" fill="#111"/><circle cx="444.26" cy="731.20" r="3.95" fill="#111"/><circle cx="469.59" cy="750.30" r="3.95" fill="#111"/><circle cx="494.91" cy="795.90" r="3.95" fill="#111"/><circle cx="520.24" cy="800.30" r="3.95" fill="#111"/><circle cx="545.56" cy="828.40" r="3.95" fill="#111"/><circle cx="570.89" cy="835.80" r="3.95" fill="#111"/><circle cx="596.22" cy="829.60" r="3.95" fill="#111"/><circle cx="241.65" cy="767.40" r="3.25" fill="#fff" stroke="#111" stroke-width="1.3"/><circle cx="266.98" cy="716.20" r="3.25" fill="#fff" stroke="#111" stroke-width="1.3"/><circle cx="292.30" cy="711.10" r="3.25" fill="#fff" stroke="#111" stroke-width="1.3"/><circle cx="317.63" cy="686.80" r="3.25" fill="#fff" stroke="#111" stroke-width="1.3"/><circle cx="342.96" cy="691.50" r="3.25" fill="#fff" stroke="#111" stroke-width="1.3"/><circle cx="368.28" cy="687.00" r="3.25" fill="#fff" stroke="#111" stroke-width="1.3"/><circle cx="393.61" cy="667.80" r="3.25" fill="#fff" stroke="#111" stroke-width="1.3"/><circle cx="418.93" cy="660.00" r="3.25" fill="#fff" stroke="#111" stroke-width="1.3"/><circle cx="444.26" cy="658.60" r="3.25" fill="#fff" stroke="#111" stroke-width="1.3"/><circle cx="469.59" cy="718.60" r="3.25" fill="#fff" stroke="#111" stroke-width="1.3"/><circle cx="494.91" cy="744.80" r="3.25" fill="#fff" stroke="#111" stroke-width="1.3"/><circle cx="520.24" cy="757.70" r="3.25" fill="#fff" stroke="#111" stroke-width="1.3"/><circle cx="545.56" cy="779.90" r="3.25" fill="#fff" stroke="#111" stroke-width="1.3"/><circle cx="570.89" cy="781.80" r="3.25" fill="#fff" stroke="#111" stroke-width="1.3"/><circle cx="596.22" cy="786.70" r="3.25" fill="#fff" stroke="#111" stroke-width="1.3"/><polygon points="237.75,749.67 245.55,749.67 241.65,756.67" fill="#111"/><polygon points="263.08,718.47 270.88,718.47 266.98,725.47" fill="#111"/><polygon points="288.40,709.37 296.20,709.37 292.30,716.37" fill="#111"/><polygon points="313.73,688.87 321.53,688.87 317.63,695.87" fill="#111"/><polygon points="339.06,688.57 346.86,688.57 342.96,695.57" fill="#111"/><polygon points="364.38,682.37 372.18,682.37 368.28,689.37" fill="#111"/><polygon points="389.71,665.67 397.51,665.67 393.61,672.67" fill="#111"/><polygon points="415.03,657.87 422.83,657.87 418.93,664.87" fill="#111"/><polygon points="440.36,656.47 448.16,656.47 444.26,663.47" fill="#111"/><polygon points="465.69,711.37 473.49,711.37 469.59,718.37" fill="#111"/><polygon points="491.01,746.27 498.81,746.27 494.91,753.27" fill="#111"/><polygon points="516.34,738.37 524.14,738.37 520.24,745.37" fill="#111"/><polygon points="541.66,757.87 549.46,757.87 545.56,764.87" fill="#111"/><polygon points="566.99,769.87 574.79,769.87 570.89,776.87" fill="#111"/><polygon points="592.32,783.87 600.12,783.87 596.22,790.87" fill="#111"/><polygon points="238.40,758.30 244.90,758.30 241.65,764.00" fill="#fff" stroke="#111" stroke-width="1.25" stroke-linejoin="miter"/><polygon points="263.73,702.10 270.23,702.10 266.98,707.80" fill="#fff" stroke="#111" stroke-width="1.25" stroke-linejoin="miter"/><polygon points="289.05,691.70 295.55,691.70 292.30,697.40" fill="#fff" stroke="#111" stroke-width="1.25" stroke-linejoin="miter"/><polygon points="314.38,689.30 320.88,689.30 317.63,695.00" fill="#fff" stroke="#111" stroke-width="1.25" stroke-linejoin="miter"/><polygon points="339.71,679.90 346.21,679.90 342.96,685.60" fill="#fff" stroke="#111" stroke-width="1.25" stroke-linejoin="miter"/><polygon points="365.03,697.20 371.53,697.20 368.28,702.90" fill="#fff" stroke="#111" stroke-width="1.25" stroke-linejoin="miter"/><polygon points="390.36,666.10 396.86,666.10 393.61,671.80" fill="#fff" stroke="#111" stroke-width="1.25" stroke-linejoin="miter"/><polygon points="415.68,658.30 422.18,658.30 418.93,664.00" fill="#fff" stroke="#111" stroke-width="1.25" stroke-linejoin="miter"/><polygon points="441.01,656.90 447.51,656.90 444.26,662.60" fill="#fff" stroke="#111" stroke-width="1.25" stroke-linejoin="miter"/><polygon points="466.34,711.80 472.84,711.80 469.59,717.50" fill="#fff" stroke="#111" stroke-width="1.25" stroke-linejoin="miter"/><polygon points="491.66,742.50 498.16,742.50 494.91,748.20" fill="#fff" stroke="#111" stroke-width="1.25" stroke-linejoin="miter"/><polygon points="516.99,738.80 523.49,738.80 520.24,744.50" fill="#fff" stroke="#111" stroke-width="1.25" stroke-linejoin="miter"/><polygon points="542.31,762.20 548.81,762.20 545.56,767.90" fill="#fff" stroke="#111" stroke-width="1.25" stroke-linejoin="miter"/><polygon points="567.64,767.80 574.14,767.80 570.89,773.50" fill="#fff" stroke="#111" stroke-width="1.25" stroke-linejoin="miter"/><polygon points="592.97,778.20 599.47,778.20 596.22,783.90" fill="#fff" stroke="#111" stroke-width="1.25" stroke-linejoin="miter"/><rect x="238.15" y="743.00" width="7.00" height="7.00" fill="#111"/><rect x="263.48" y="705.50" width="7.00" height="7.00" fill="#111"/><rect x="288.80" y="686.60" width="7.00" height="7.00" fill="#111"/><rect x="314.13" y="691.60" width="7.00" height="7.00" fill="#111"/><rect x="339.46" y="667.00" width="7.00" height="7.00" fill="#111"/><rect x="364.78" y="656.80" width="7.00" height="7.00" fill="#111"/><rect x="390.11" y="643.60" width="7.00" height="7.00" fill="#111"/><rect x="415.43" y="645.80" width="7.00" height="7.00" fill="#111"/><rect x="440.76" y="631.00" width="7.00" height="7.00" fill="#111"/><rect x="466.09" y="690.70" width="7.00" height="7.00" fill="#111"/><rect x="491.41" y="734.10" width="7.00" height="7.00" fill="#111"/><rect x="516.74" y="738.20" width="7.00" height="7.00" fill="#111"/><rect x="542.06" y="754.60" width="7.00" height="7.00" fill="#111"/><rect x="567.39" y="765.70" width="7.00" height="7.00" fill="#111"/><rect x="592.72" y="782.50" width="7.00" height="7.00" fill="#111"/><path d="M389 233.5H414.6" stroke="#333" stroke-width="1.2"/><circle cx="402.00" cy="233.50" r="3.95" fill="#111"/><text x="420" y="237.5" font-family="Liberation Sans" font-size="11.6" fill="#222">0 Mg ha<tspan font-size="7.6" dy="-3.6">-1</tspan></text><path d="M389 249.1H414.6" stroke="#333" stroke-width="1.2"/><circle cx="402.00" cy="249.10" r="3.25" fill="#fff" stroke="#111" stroke-width="1.3"/><text x="420" y="253.1" font-family="Liberation Sans" font-size="11.6" fill="#222">2 Mg ha<tspan font-size="7.6" dy="-3.6">-1</tspan></text><path d="M389 264.5H414.6" stroke="#333" stroke-width="1.2"/><polygon points="398.10,262.17 405.90,262.17 402.00,269.17" fill="#111"/><text x="420" y="268.5" font-family="Liberation Sans" font-size="11.6" fill="#222">6 Mg ha<tspan font-size="7.6" dy="-3.6">-1</tspan></text><path d="M389 280.2H414.6" stroke="#333" stroke-width="1.2"/><polygon points="398.75,278.30 405.25,278.30 402.00,284.00" fill="#fff" stroke="#111" stroke-width="1.25" stroke-linejoin="miter"/><text x="420" y="284.2" font-family="Liberation Sans" font-size="11.6" fill="#222">10 Mg ha<tspan font-size="7.6" dy="-3.6">-1</tspan></text><path d="M389 295.6H414.6" stroke="#333" stroke-width="1.2"/><rect x="398.50" y="292.10" width="7.00" height="7.00" fill="#111"/><text x="420" y="299.6" font-family="Liberation Sans" font-size="11.6" fill="#222">20 Mg ha<tspan font-size="7.6" dy="-3.6">-1</tspan></text><g font-family="Liberation Serif" font-size="17" fill="#222"><text transform="translate(192.2,254) rotate(-90)">Total iron (mg Fe L<tspan font-size="11" dy="-5">-1</tspan><tspan dy="5"> )</tspan></text><text transform="translate(192.2,535.5) rotate(-90)">Ferric iron (mg Fe<tspan font-size="11" dy="-5">3+</tspan><tspan dy="5"> L</tspan><tspan font-size="11" dy="-5">-1</tspan><tspan dy="5">)</tspan></text><text transform="translate(192.2,815.5) rotate(-90)">Ferrous iron (mg Fe<tspan font-size="11" dy="-5">2+</tspan><tspan dy="5"> L</tspan><tspan font-size="11" dy="-5">-1</tspan><tspan dy="5">)</tspan></text></g><text x="369" y="928.8" font-family="Liberation Serif" font-size="14" fill="#222">Days after transplanting</text>
</svg></body></html>
